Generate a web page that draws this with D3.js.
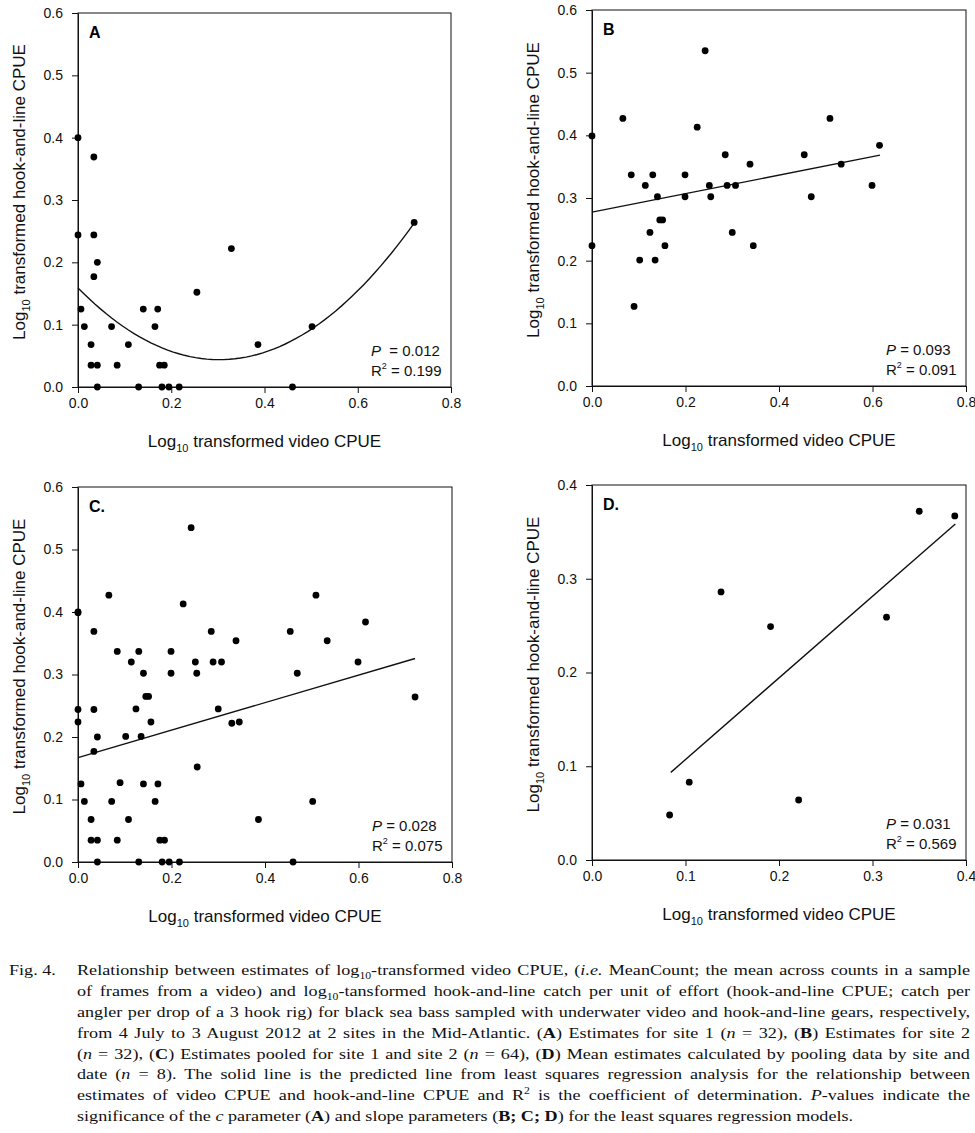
<!DOCTYPE html>
<html>
<head>
  <meta charset="utf-8">
  <title>Video CPUE vs hook-and-line CPUE</title>
  <script src="https://d3js.org/d3.v7.min.js"></script>
  <style>
    body { margin: 0; background: #fff; }
    svg { display: block; }
  </style>
</head>
<body>
  <svg id="fig" width="975" height="1133"></svg>
  <script>
  // --- data ---
  // site 1 (panel A)
  var siteAVideo = [0, 0.034, 0, 0.034, 0.0415, 0.034, 0.0064, 0.0136, 0.028, 0.028, 0.0415, 0.0415,
    0.072, 0.084, 0.108, 0.130, 0.140, 0.165, 0.171, 0.175, 0.185, 0.180, 0.195, 0.217,
    0.255, 0.329, 0.386, 0.460, 0.502, 0.721];
  var siteAHook = [0.400, 0.369, 0.244, 0.244, 0.200, 0.177, 0.125, 0.097, 0.068, 0.035, 0.035, 0,
    0.097, 0.035, 0.068, 0, 0.125, 0.097, 0.125, 0.035, 0.035, 0, 0, 0,
    0.152, 0.222, 0.068, 0, 0.097, 0.264];

  // site 2 (panel B)
  var siteBVideo = [0, 0, 0.066, 0.084, 0.090, 0.102, 0.114, 0.124, 0.130, 0.135, 0.140, 0.145,
    0.151, 0.156, 0.199, 0.199, 0.225, 0.242, 0.251, 0.254, 0.285, 0.289, 0.300, 0.307,
    0.338, 0.345, 0.454, 0.469, 0.509, 0.533, 0.599, 0.615];
  var siteBHook = [0.399, 0.224, 0.427, 0.337, 0.127, 0.201, 0.320, 0.245, 0.337, 0.201, 0.302, 0.265,
    0.265, 0.224, 0.337, 0.302, 0.413, 0.535, 0.320, 0.302, 0.369, 0.320, 0.245, 0.320,
    0.354, 0.224, 0.369, 0.302, 0.427, 0.354, 0.320, 0.384];

  // pooled by site and date (panel D)
  var meanVideo = [0.083, 0.104, 0.138, 0.191, 0.221, 0.315, 0.350, 0.388];
  var meanHook = [0.048, 0.083, 0.286, 0.249, 0.064, 0.259, 0.372, 0.367];

  // fitted models (coefficients)
  var fitA = [0.159, -0.760, 1.254];   // c0 + c1 x + c2 x^2
  var fitB = [0.2774, 0.1476];         // intercept, slope
  var fitC = [0.167, 0.220];
  var fitD = [0.0201, 0.8705];
  var fitRangeA = [0, 0.721];
  var fitRangeB = [0, 0.616];
  var fitRangeC = [0, 0.721];
  var fitRangeD = [0.0843, 0.3886];

  var statsP = ["0.012", "0.093", "0.028", "0.031"];
  var statsR2 = ["0.199", "0.091", "0.075", "0.569"];

  var ticks08 = [0, 0.2, 0.4, 0.6, 0.8];
  var ticks06 = [0, 0.1, 0.2, 0.3, 0.4, 0.5, 0.6];
  var ticks04 = [0, 0.1, 0.2, 0.3, 0.4];

  function zip(xs, ys) { return xs.map(function(x, i){ return [x, ys[i]]; }); }

  var pointsA = zip(siteAVideo, siteAHook);
  var pointsB = zip(siteBVideo, siteBHook);
  var pointsC = pointsA.concat(pointsB);
  var pointsD = zip(meanVideo, meanHook);

  // --- layout ---
  var panels = [
    {label: "A", left: 78, top: 13, w: 373, h: 374, xt: ticks08, yt: ticks06, pts: pointsA,
     fit: fitA, range: fitRangeA, p: statsP[0], r2: statsR2[0], pGap: true},
    {label: "B", left: 592, top: 10, w: 374, h: 376, xt: ticks08, yt: ticks06, pts: pointsB,
     fit: fitB, range: fitRangeB, p: statsP[1], r2: statsR2[1]},
    {label: "C.", left: 78, top: 487, w: 374, h: 375, xt: ticks08, yt: ticks06, pts: pointsC,
     fit: fitC, range: fitRangeC, p: statsP[2], r2: statsR2[2]},
    {label: "D.", left: 592, top: 485, w: 374, h: 375, xt: ticks04, yt: ticks04, pts: pointsD,
     fit: fitD, range: fitRangeD, p: statsP[3], r2: statsR2[3]}
  ];

  var svg = d3.select("#fig");
  var sans = "'Liberation Sans', Arial, sans-serif";
  var serif = "'Liberation Serif', 'Times New Roman', serif";

  panels.forEach(function(pn) {
    var x = d3.scaleLinear().domain([pn.xt[0], pn.xt[pn.xt.length - 1]]).range([0, pn.w]);
    var y = d3.scaleLinear().domain([pn.yt[0], pn.yt[pn.yt.length - 1]]).range([pn.h, 0]);
    var g = svg.append("g").attr("transform", "translate(" + pn.left + "," + pn.top + ")");

    // frame
    g.append("rect")
      .attr("width", pn.w).attr("height", pn.h)
      .attr("fill", "none").attr("stroke", "#111").attr("stroke-width", 1);

    var xAxis = g.append("g")
      .attr("transform", "translate(0," + pn.h + ")")
      .call(d3.axisBottom(x).tickValues(pn.xt).tickFormat(d3.format(".1f"))
        .tickSize(6).tickSizeOuter(0).tickPadding(5));
    var yAxis = g.append("g")
      .call(d3.axisLeft(y).tickValues(pn.yt).tickFormat(d3.format(".1f"))
        .tickSize(6).tickSizeOuter(0).tickPadding(9));
    [xAxis, yAxis].forEach(function(a) {
      a.selectAll("path, line").attr("stroke", "#111");
      a.selectAll("text").attr("font-family", sans).attr("font-size", 14).attr("fill", "#111");
    });

    // fitted line / curve
    var fx = pn.fit.length === 3
      ? function(v){ return pn.fit[0] + pn.fit[1] * v + pn.fit[2] * v * v; }
      : function(v){ return pn.fit[0] + pn.fit[1] * v; };
    var xs = pn.fit.length === 3
      ? d3.range(0, 61).map(function(i){ return pn.range[0] + (pn.range[1] - pn.range[0]) * i / 60; })
      : pn.range;
    g.append("path")
      .datum(xs)
      .attr("fill", "none").attr("stroke", "#111").attr("stroke-width", 1.4)
      .attr("d", d3.line().x(function(v){ return x(v); }).y(function(v){ return y(fx(v)); }));

    // points
    g.selectAll("circle.pt").data(pn.pts).enter()
      .append("circle").attr("class", "pt")
      .attr("cx", function(d){ return x(d[0]); })
      .attr("cy", function(d){ return y(d[1]); })
      .attr("r", 3.4).attr("fill", "#000");

    // panel letter
    g.append("text")
      .attr("x", 11).attr("y", 25)
      .attr("font-family", sans).attr("font-size", 16).attr("font-weight", "bold")
      .text(pn.label);

    // stats
    var st = g.append("g").attr("font-family", sans).attr("font-size", 15).attr("fill", "#111");
    var t1 = st.append("text").attr("x", pn.w - 80).attr("y", pn.h - 31);
    t1.append("tspan").attr("font-style", "italic").text("P");
    t1.append("tspan").text((pn.pGap ? "  = " : " = ") + pn.p).attr("xml:space", "preserve");
    var t2 = st.append("text").attr("x", pn.w - 80).attr("y", pn.h - 11);
    t2.append("tspan").text("R");
    t2.append("tspan").attr("font-size", 9).attr("dy", -7).text("2");
    t2.append("tspan").attr("dy", 7).text(" = " + pn.r2);

    // axis titles
    var xt = g.append("text")
      .attr("x", pn.w / 2).attr("y", pn.h + 60)
      .attr("text-anchor", "middle")
      .attr("font-family", sans).attr("font-size", 17).attr("fill", "#111");
    xt.append("tspan").text("Log");
    xt.append("tspan").attr("font-size", 11).attr("dy", 5).text("10");
    xt.append("tspan").attr("dy", -5).text(" transformed video CPUE");

    var yt = g.append("text")
      .attr("transform", "translate(-53," + (pn.h / 2 - 8) + ") rotate(-90)")
      .attr("text-anchor", "middle")
      .attr("font-family", sans).attr("font-size", 17).attr("fill", "#111");
    yt.append("tspan").text("Log");
    yt.append("tspan").attr("font-size", 11).attr("dy", 5).text("10");
    yt.append("tspan").attr("dy", -5).text(" transformed hook-and-line CPUE");
  });

  // --- caption ---
  // each line: list of [text, style]; style: "" normal, i italic, b bold, sub, sup
  var captionLines = [
    [["Relationship between estimates of log", ""], ["10", "sub"], ["-transformed video CPUE, (", ""], ["i.e.", "i"], [" MeanCount; the mean across counts in a sample", ""]],
    [["of frames from a video) and log", ""], ["10", "sub"], ["-tansformed hook-and-line catch per unit of effort (hook-and-line CPUE; catch per", ""]],
    [["angler per drop of a 3 hook rig) for black sea bass sampled with underwater video and hook-and-line gears, respectively,", ""]],
    [["from 4 July to 3 August 2012 at 2 sites in the Mid-Atlantic. (", ""], ["A", "b"], [") Estimates for site 1 (", ""], ["n", "i"], [" = 32), (", ""], ["B", "b"], [") Estimates for site 2", ""]],
    [["(", ""], ["n", "i"], [" = 32), (", ""], ["C", "b"], [") Estimates pooled for site 1 and site 2 (", ""], ["n", "i"], [" = 64), (", ""], ["D", "b"], [") Mean estimates calculated by pooling data by site and", ""]],
    [["date (", ""], ["n", "i"], [" = 8). The solid line is the predicted line from least squares regression analysis for the relationship between", ""]],
    [["estimates of video CPUE and hook-and-line CPUE and R", ""], ["2", "sup"], [" is the coefficient of determination. ", ""], ["P", "i"], ["-values indicate the", ""]],
    [["significance of the ", ""], ["c", "i"], [" parameter (", ""], ["A", "b"], [") and slope parameters (", ""], ["B; C; D", "b"], [") for the least squares regression models.", ""]]
  ];

  // the printed caption is set in a slightly wide serif; emulate with a horizontal stretch
  var stretch = 1.17;
  var capLeft = 77, capRight = 970, lineGap = 20.9, capTop = 975;

  svg.append("g")
    .attr("transform", "translate(9,0) scale(" + stretch + ",1)")
    .attr("font-family", serif).attr("font-size", 15.5).attr("fill", "#111")
    .append("text").attr("x", 0).attr("y", capTop).text("Fig. 4.");

  var cap = svg.append("g")
    .attr("transform", "translate(" + capLeft + ",0) scale(" + stretch + ",1)")
    .attr("font-family", serif).attr("font-size", 15.5).attr("fill", "#111");
  var target = (capRight - capLeft) / stretch;

  captionLines.forEach(function(parts, li) {
    var t = cap.append("text").attr("x", 0).attr("y", capTop + li * lineGap)
      .attr("xml:space", "preserve");
    var shift = 0;
    parts.forEach(function(p) {
      var s = t.append("tspan").text(p[0]);
      if (p[1] === "i") s.attr("font-style", "italic");
      if (p[1] === "b") s.attr("font-weight", "bold");
      if (p[1] === "sub") { s.attr("font-size", 10).attr("dy", 4 - shift); shift = 4; }
      else if (p[1] === "sup") { s.attr("font-size", 10).attr("dy", -6 - shift); shift = -6; }
      else if (shift !== 0) { s.attr("dy", -shift); shift = 0; }
    });
    if (li < captionLines.length - 1) {
      var full = parts.map(function(p){ return p[0]; }).join("");
      var spaces = (full.match(/ /g) || []).length;
      var natural = t.node().getComputedTextLength();
      t.attr("word-spacing", ((target - natural) / spaces).toFixed(2));
    }
  });
  </script>
</body>
</html>
